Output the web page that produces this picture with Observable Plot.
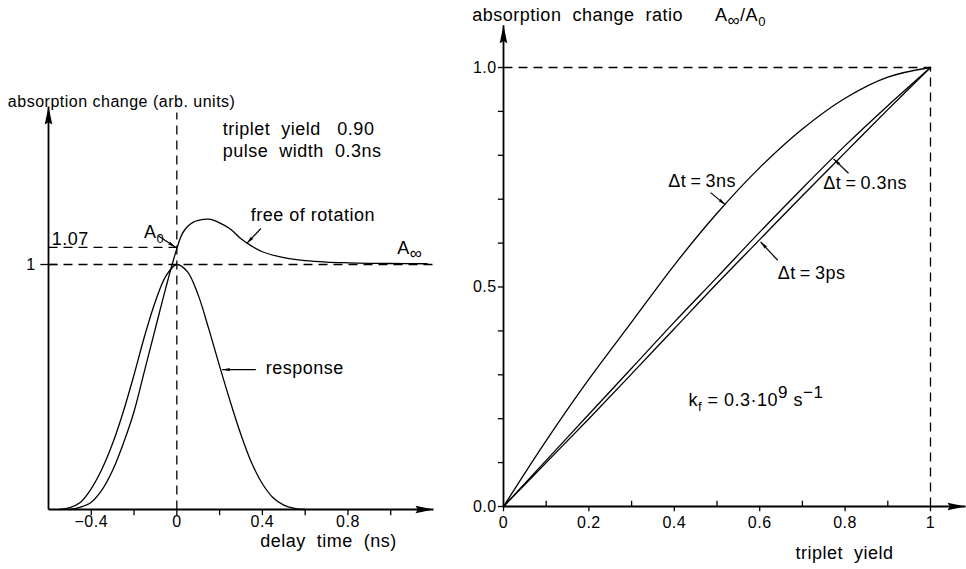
<!DOCTYPE html>
<html><head><meta charset="utf-8">
<script src="https://cdn.jsdelivr.net/npm/d3@7"></script>
<script src="https://cdn.jsdelivr.net/npm/@observablehq/plot@0.6"></script>
<style>
body{margin:0;background:#fff;}
#chart{position:relative;width:966px;height:569px;background:#fff;}
#chart svg{position:absolute;left:0;top:0;}
#chart svg text{letter-spacing:0.5px;}
</style>
</head><body><div id="chart"></div>
<script>
// ---------- data: left panel (delay time in ns, absorption change in arb. units) ----------
const responseT = [-0.55,-0.5,-0.45,-0.4,-0.35,-0.3,-0.25,-0.2,-0.15,-0.1,-0.05,0,0.05,0.1,0.15,0.2,0.25,0.3,0.35,0.4,0.45,0.5,0.55,0.6];
const responseA = [0,0.008,0.03,0.085,0.165,0.27,0.4,0.55,0.71,0.85,0.955,1.0,0.97,0.875,0.735,0.585,0.44,0.305,0.19,0.105,0.048,0.018,0.005,0];
const signalT = [-0.5,-0.45,-0.4,-0.35,-0.3,-0.25,-0.2,-0.15,-0.1,-0.05,0,0.025,0.05,0.075,0.1,0.15,0.2,0.25,0.3,0.35,0.4,0.5,0.6,0.7,0.8,0.9,1.0,1.17];
const signalA = [0,0.01,0.03,0.08,0.16,0.27,0.4,0.57,0.74,0.91,1.065,1.125,1.155,1.172,1.18,1.185,1.17,1.145,1.105,1.075,1.052,1.028,1.016,1.01,1.007,1.005,1.004,1.003];
const leftMajorTicks = [-0.4,0,0.4,0.8];
const leftMajorLabels = ["−0.4","0","0.4","0.8"];
const leftMinorTicks = [-0.2,0.2,0.6,1.0];

// ---------- data: right panel (triplet yield vs ratio A∞/A0) ----------
const yieldX   = [0,0.1,0.2,0.3,0.4,0.5,0.6,0.7,0.8,0.9,1];
const ratio3ns = [0,0.15,0.29,0.42,0.55,0.668,0.772,0.86,0.93,0.978,1];
const ratio03ns= [0,0.105,0.21,0.315,0.42,0.522,0.625,0.725,0.822,0.913,1];
const ratio3ps = [0,0.1,0.2,0.302,0.405,0.508,0.608,0.708,0.806,0.904,1];
const rightXTicks = [0,0.2,0.4,0.6,0.8,1];
const rightXLabels = ["0","0.2","0.4","0.6","0.8","1"];
const rightXMinor = [0.1,0.3,0.5,0.7,0.9];
const rightYTicks = [0,0.1,0.2,0.3,0.4,0.5,0.6,0.7,0.8,0.9,1];
const rightYLabelVals = [0,0.5,1];
const rightYLabels = ["0.0","0.5","1.0"];

// ---------- helpers ----------
const FONT = "'Liberation Sans', Arial, Helvetica, sans-serif";
const FS = 18, TFS = 16;
const sp = "\u00a0", th = "\u2009";
const headSymbol = {draw(ctx, size){ const r = Math.sqrt(size/Math.PI);
  ctx.moveTo(0,0); ctx.lineTo(-2*r,-0.42*r); ctx.lineTo(-1.75*r,0); ctx.lineTo(-2*r,0.42*r); ctx.closePath(); }};

function arrows(list, kx, ky, r, sw){
  return [
    Plot.link(list,{x1:"x1",y1:"y1",x2:"x2",y2:"y2",stroke:"black",strokeWidth:sw}),
    Plot.dot(list,{x:"x2",y:"y2",symbol:headSymbol,r,fill:"black",stroke:"none",
      rotate:d=>Math.atan2(-(d.y2-d.y1)*ky,(d.x2-d.x1)*kx)*180/Math.PI})
  ];
}
function texts(list, opts={}){
  return Plot.text(list,{x:"x",y:"y",text:"s",textAnchor:opts.anchor||"start",fontSize:opts.size||FS,fill:"black"});
}
function richText(svg){
  const ns="http://www.w3.org/2000/svg";
  for(const t of svg.querySelectorAll("text")){
    const s=t.textContent;
    if(!/[_^]\{/.test(s)) continue;
    while(t.firstChild) t.removeChild(t.firstChild);
    const re=/([_^])\{([^}]*)\}/g; let last=0,m,cur=0;
    const push=(txt,shift,small)=>{const ts=document.createElementNS(ns,"tspan");ts.textContent=txt;
      const dy=shift-cur; if(dy) ts.setAttribute("dy",dy); cur=shift; if(small) ts.style.fontSize=small; t.appendChild(ts);};
    while((m=re.exec(s))){ if(m.index>last) push(s.slice(last,m.index),0);
      const sub=m[1]==="_"; const big=m[2]==="∞";
      push(m[2], sub?5:-8, sub?(big?"17px":"13px"):"17px"); last=re.lastIndex; }
    if(last<s.length) push(s.slice(last),0);
  }
}
const svgStyle={background:"transparent",overflow:"visible",fontFamily:FONT,fontSize:FS+"px",color:"black"};

// ---------- left panel ----------
const response = responseT.map((t,i)=>({t,a:responseA[i]}));
const signal = signalT.map((t,i)=>({t,a:signalA[i]}));
const LKX=(433-48)/1.8, LKY=245;
const dash="9,6";
const left = Plot.plot({
  width:966,height:569,
  x:{domain:[-0.6,1.2],range:[48,433],axis:null},
  y:{domain:[0,1],range:[509,264],axis:null},
  style:svgStyle,
  marks:[
    Plot.link([{x1:-0.6,y1:1.07,x2:0,y2:1.07},{x1:-0.6,y1:1,x2:1.2,y2:1},{x1:0,y1:0,x2:0,y2:1.62}],
      {x1:"x1",y1:"y1",x2:"x2",y2:"y2",stroke:"black",strokeWidth:1.3,strokeDasharray:dash}),
    Plot.line(response,{x:"t",y:"a",curve:"catmull-rom",stroke:"black",strokeWidth:1.3}),
    Plot.line(signal,{x:"t",y:"a",curve:"catmull-rom",stroke:"black",strokeWidth:1.3}),
    ...arrows([{x1:-0.6,y1:0,x2:1.2,y2:0},{x1:-0.6,y1:0,x2:-0.6,y2:1.645}],LKX,LKY,9,1.8),
    Plot.ruleX(leftMajorTicks.concat(leftMinorTicks),{y1:0,y2:-0.025,stroke:"black",strokeWidth:1.3}),
    Plot.ruleY([1],{x1:-0.636,x2:-0.556,stroke:"black",strokeWidth:1.3}),
    Plot.text(leftMajorTicks,{x:d=>d,y:-0.05,text:(d,i)=>leftMajorLabels[i],fontSize:TFS,fill:"black"}),
    texts([{x:-0.79,y:1.665,s:"absorption change (arb. units)"}],{size:16}),
    texts([
      {x:0.215,y:1.551,s:`triplet${sp} yield${sp}${sp} 0.90`},
      {x:0.215,y:1.461,s:`pulse${sp} width${sp} 0.3ns`},
      {x:-0.153,y:1.13,s:"A_{0}"},
      {x:-0.585,y:1.105,s:"1.07"},
      {x:0.346,y:1.2,s:"free of rotation"},
      {x:1.03,y:1.065,s:"A_{∞}"},
      {x:0.416,y:0.576,s:"response"},
      {x:0.39,y:-0.128,s:`delay${sp} time${sp} (ns)`}
    ]),
    texts([{x:-0.66,y:1,s:"1"}],{anchor:"end",size:TFS}),
    ...arrows([
      {x1:-0.089,y1:1.118,x2:-0.006,y2:1.07},
      {x1:0.393,y1:1.147,x2:0.327,y2:1.086},
      {x1:0.369,y1:0.571,x2:0.212,y2:0.571}
    ],LKX,LKY,4,1.2)
  ]
});

// ---------- right panel ----------
const R3ns = yieldX.map((x,i)=>({x,y:ratio3ns[i]}));
const R03ns = yieldX.map((x,i)=>({x,y:ratio03ns[i]}));
const R3ps = yieldX.map((x,i)=>({x,y:ratio3ps[i]}));
const RKX=427, RKY=439;
const right = Plot.plot({
  width:966,height:569,
  x:{domain:[0,1],range:[503,930],axis:null},
  y:{domain:[0,1],range:[506,67],axis:null},
  style:svgStyle,
  marks:[
    Plot.link([{x1:0,y1:1,x2:1,y2:1},{x1:1,y1:0,x2:1,y2:1}],
      {x1:"x1",y1:"y1",x2:"x2",y2:"y2",stroke:"black",strokeWidth:1.3,strokeDasharray:dash}),
    Plot.line(R3ns,{x:"x",y:"y",curve:"catmull-rom",stroke:"black",strokeWidth:1.3}),
    Plot.line(R03ns,{x:"x",y:"y",curve:"catmull-rom",stroke:"black",strokeWidth:1.3}),
    Plot.line(R3ps,{x:"x",y:"y",curve:"catmull-rom",stroke:"black",strokeWidth:1.3}),
    ...arrows([{x1:0,y1:0,x2:1.082,y2:0},{x1:0,y1:0,x2:0,y2:1.096}],RKX,RKY,9,1.8),
    Plot.ruleX(rightXTicks,{y1:0,y2:-0.012,stroke:"black",strokeWidth:1.3}),
    Plot.ruleX(rightXMinor,{y1:0,y2:0.012,stroke:"black",strokeWidth:1.3}),
    Plot.ruleY(rightYTicks,{x1:0,x2:-0.012,stroke:"black",strokeWidth:1.3}),
    Plot.text(rightXTicks,{x:d=>d,y:-0.038,text:(d,i)=>rightXLabels[i],fontSize:TFS,fill:"black"}),
    Plot.text(rightYLabelVals,{x:-0.016,y:d=>d,text:(d,i)=>rightYLabels[i],fontSize:TFS,fill:"black",textAnchor:"end"}),
    texts([
      {x:-0.073,y:1.118,s:`absorption${sp} change${sp} ratio${sp}${sp}${sp}${sp}${sp} A_{∞}/A_{0}`},
      {x:0.386,y:0.742,s:`Δt${th}=${th}3ns`},
      {x:0.749,y:0.737,s:`Δt${th}=${th}0.3ns`},
      {x:0.642,y:0.532,s:`Δt${th}=${th}3ps`},
      {x:0.433,y:0.242,s:"k_{f} = 0.3·10^{9} s^{−1}"},
      {x:0.684,y:-0.107,s:`triplet${sp} yield`}
    ]),
    ...arrows([
      {x1:0.485,y1:0.715,x2:0.52,y2:0.687},
      {x1:0.808,y1:0.759,x2:0.773,y2:0.792},
      {x1:0.642,y1:0.561,x2:0.602,y2:0.603}
    ],RKX,RKY,4,1.2)
  ]
});

const chart=document.getElementById("chart");
chart.appendChild(left); chart.appendChild(right);
richText(left); richText(right);
</script></body></html>
